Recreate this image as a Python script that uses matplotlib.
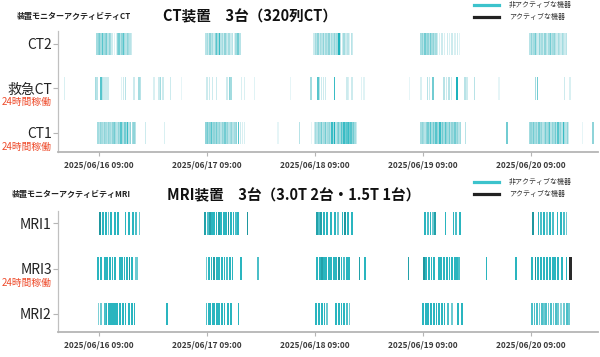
import numpy as np
import pandas as pd
import matplotlib
matplotlib.use('Agg')
import matplotlib.pyplot as plt
import matplotlib.dates as mdates
from matplotlib.colors import LinearSegmentedColormap
from matplotlib.lines import Line2D

plt.rcParams['font.family'] = ['Noto Sans CJK JP', 'DejaVu Sans']

START = pd.Timestamp('2025-06-16 00:00')
DAYS = 5

# (hours after 06/16 00:00, shade 0=light .. 1=dark)
ct2 = [(8.7, .5), (9.0, .6), (9.3, .7), (9.6, .5), (9.9, .8), (10.2, .5), (10.5, .6), (10.8, .7),
       (11.1, .4), (11.4, .6), (11.7, .5), (12.0, .3), (12.5, .15), (13.0, .2), (13.3, .6), (13.6, .7),
       (13.9, .4), (14.2, .6), (14.5, .8), (14.8, .5), (15.1, .4), (15.4, .6), (15.7, .5), (16.0, .4),
       (16.3, .3),
       (32.9, .4), (33.2, .5), (33.5, .3), (33.8, .6), (34.1, .4), (34.4, .5), (34.7, .3), (35.0, .6),
       (35.3, .8), (35.6, .5), (35.9, .9), (36.2, .4), (36.5, .5), (36.8, .3), (37.1, .6), (37.4, .4),
       (37.7, .3), (38.0, .5), (38.4, .3), (38.8, .4), (39.2, .2), (39.6, .5), (40.0, .7), (40.4, .4),
       (56.9, .3), (57.2, .5), (57.5, .4), (57.8, .6), (58.1, .3), (58.4, .5), (58.7, .4), (59.0, .6),
       (59.3, .3), (59.6, .5), (59.9, .4), (60.2, .6), (60.5, .3), (60.8, .5), (61.1, .4), (61.4, .6),
       (61.7, .4), (62.0, .5), (62.4, 1.0), (62.8, .4), (63.2, .3), (63.6, .5), (64.0, .3), (64.4, .4),
       (64.8, .2), (65.2, .4), (65.5, .3),
       (80.7, .5), (81.0, .6), (81.3, .4), (81.6, .7), (81.9, .5), (82.2, .6), (82.5, .4), (82.8, .7),
       (83.1, .5), (83.4, .6), (83.7, .4), (84.0, .5), (84.3, .3), (84.8, .2), (85.3, .3), (85.9, .2),
       (86.5, .3), (87.0, .2), (87.6, .3), (88.2, .2), (88.8, .3), (89.2, .15),
       (104.9, .4), (105.2, .6), (105.5, .4), (105.8, .5), (106.1, .7), (106.4, .4), (106.7, .3),
       (107.0, .6), (107.3, .4), (107.6, .5), (107.9, .3), (108.2, .6), (108.5, .4), (108.8, .3),
       (109.1, .5), (109.4, .7), (109.7, .4), (110.0, .5), (110.3, .6), (110.6, .4), (110.9, .3),
       (111.2, .5), (111.5, .4), (111.8, .3), (112.1, .5), (112.4, .4), (112.7, .3), (113.0, .4)]

er_ct = [(1.5, .2), (8.4, .5), (8.7, .4), (9.6, .8), (9.9, .4), (10.2, .3), (10.5, .3), (10.8, .3),
         (11.1, .3), (14.1, .15), (14.6, .3), (15.0, .4), (16.9, .3), (18.0, .5), (18.3, .4),
         (21.3, .2), (22.4, .3), (22.8, .5), (23.3, .3), (25.0, .3), (27.4, .1), (33.1, .3),
         (33.7, .3), (34.3, .3), (35.2, .3), (37.6, .3), (38.1, .6), (38.4, .5), (40.8, .2),
         (41.4, .2), (43.7, .15), (51.7, .1), (56.2, .5), (57.8, .8), (58.1, .4), (58.6, .3),
         (59.0, .3), (59.5, .3), (61.5, .9), (64.2, .3), (64.6, .2), (65.3, .3), (67.4, .15),
         (68.0, .15), (78.1, .1), (80.7, .2), (82.1, .4), (82.5, .3), (83.3, .7), (85.8, .4),
         (86.3, .3), (86.9, .4), (87.4, .3), (88.7, 1.0), (90.4, .4), (90.9, .3), (92.6, .4),
         (98.0, .1), (106.1, .5), (106.5, .7), (112.6, .3), (113.8, .2)]

ct1 = [(8.9, .5), (9.2, .4), (9.5, .6), (9.8, .5), (10.1, .4), (10.4, .6), (10.7, .5), (11.0, .4),
       (11.3, .6), (11.6, .5), (11.9, .4), (12.2, .6), (12.5, .7), (12.8, .5), (13.1, .4), (13.4, .6),
       (13.7, .5), (14.0, .8), (14.3, .5), (14.6, .4), (14.9, .7), (15.2, .5), (15.5, .9), (15.8, .4),
       (16.1, .6), (16.5, .5), (16.9, .6), (17.2, .4), (19.5, .3), (23.7, .2),
       (32.9, .6), (33.2, .7), (33.5, .5), (33.8, .6), (34.1, .8), (34.4, .5), (34.7, .6), (35.0, .5),
       (35.3, .7), (35.6, .5), (35.9, .6), (36.2, .4), (36.5, .6), (36.8, .5), (37.1, .7), (37.4, .5),
       (37.7, .6), (38.0, .4), (38.3, .5), (38.6, .6), (38.9, .4), (39.3, .5), (39.7, .6), (40.1, .8),
       (40.5, .3), (41.0, .2), (41.5, .2), (48.9, .1), (53.7, .4), (56.3, .1),
       (57.0, .3), (57.3, .5), (57.6, .4), (57.9, .6), (58.2, .5), (58.5, .7), (58.8, .4), (59.1, .5),
       (59.4, .7), (59.7, .4), (60.0, .5), (60.3, .6), (60.6, .4), (60.9, .9), (61.2, .5), (61.5, 1.0),
       (61.8, .4), (62.1, .6), (62.4, .7), (62.7, .5), (63.0, .8), (63.3, .6), (63.6, .9), (63.9, .7),
       (64.2, .8), (64.5, .9), (64.8, .7), (65.1, .8), (65.4, .6), (65.7, .7), (66.0, .5), (66.3, .3),
       (80.7, .5), (81.0, .6), (81.3, .5), (81.6, .4), (81.9, .6), (82.2, .7), (82.5, .5), (82.8, .8),
       (83.1, .5), (83.4, .7), (83.7, .5), (84.0, .8), (84.3, .6), (84.6, .5), (84.9, .9), (85.2, .5),
       (85.5, .7), (85.8, .5), (86.1, .8), (86.4, .6), (86.7, .5), (87.0, .7), (87.3, .4), (87.6, .6),
       (87.9, .5), (88.2, .7), (88.5, .5), (88.8, .6), (89.1, .4), (89.4, .5), (90.5, .4), (99.8, .7),
       (104.8, .5), (105.1, .6), (105.4, .5), (105.7, .7), (106.0, .5), (106.3, .6), (106.6, .4),
       (106.9, .7), (107.2, .5), (107.5, .6), (107.8, .4), (108.1, .5), (108.4, .7), (108.7, .5),
       (109.0, .6), (109.3, .8), (109.6, .4), (109.9, .6), (110.2, .5), (110.5, .7), (110.8, .4),
       (111.1, .8), (111.4, .5), (111.7, .6), (112.0, .4), (112.3, .9), (112.6, .5), (112.9, .4),
       (113.2, .6), (113.5, .3), (116.5, .1), (118.9, .6)]

mri1 = [(9.4, .95), (10.0, .8), (10.6, .8), (11.2, .6), (11.8, .8), (12.6, .8), (13.4, .8), (15.0, .8),
        (15.8, .8), (16.7, .8), (17.3, .7), (18.1, .6),
        (32.7, .9), (33.3, .7), (33.8, .9), (34.2, .8), (34.7, .8), (35.2, .8), (35.7, .9), (36.3, .8),
        (36.8, .8), (37.4, .8), (37.9, .95), (38.5, .8), (39.0, .8), (39.6, .7), (40.0, .8), (42.1, .95),
        (57.6, .9), (58.0, .7), (58.5, .9), (59.1, .8), (59.7, .8), (60.7, .8), (61.5, .8), (62.2, .6),
        (63.2, .8), (63.8, .95), (64.4, .8), (65.3, .8),
        (81.6, .8), (82.2, .7), (82.8, .8), (83.3, .6), (83.8, .9), (86.1, .8), (87.9, .8), (88.5, .7),
        (89.3, .8),
        (105.6, .95), (106.8, .8), (107.4, .7), (108.0, .8), (108.6, .6), (109.3, .8), (110.0, .7),
        (111.0, .8), (111.7, .8), (112.4, .7), (113.0, .6)]

mri3 = [(8.9, .8), (9.5, .8), (10.4, .8), (10.9, .8), (11.5, .8), (12.1, .8), (12.6, .8), (13.7, .8),
        (14.2, .8), (14.8, .8), (15.3, .8), (15.9, .95), (16.5, .8), (17.2, .6), (17.6, .6),
        (33.0, .6), (33.5, .8), (34.1, .8), (34.7, .9), (35.3, .8), (35.8, .8), (36.4, .8), (37.0, .8),
        (37.6, .7), (38.2, .8), (38.8, .8), (40.6, .8), (44.4, .7),
        (57.6, .8), (58.2, .8), (58.7, .9), (59.1, .8), (59.6, .8), (60.2, .8), (60.7, .8), (61.3, .8),
        (61.8, .8), (62.4, .95), (63.0, .8), (63.6, .7), (64.2, .8), (64.7, .8), (67.0, .9), (68.3, .8),
        (77.9, .9),
        (81.3, .95), (81.8, .8), (82.4, .8), (83.0, .8), (83.6, .8), (84.6, .8), (85.2, .8), (85.8, .8),
        (86.4, .8), (87.0, .8), (87.6, .8), (88.2, .8), (88.7, .8), (89.1, .7), (95.2, .8), (101.8, .8),
        (105.4, .8), (106.1, .95), (106.7, .8), (107.4, .8), (108.0, .8), (108.7, .8), (109.3, .8),
        (110.0, .8), (110.5, .8), (111.1, .8), (112.0, .8), (113.0, .8)]
mri3_active = [113.8, 114.1]

mri2 = [(9.0, .55), (9.5, .6), (10.4, .7), (10.8, .8), (11.3, .8), (11.7, .8), (12.2, .8), (12.6, .8),
        (13.2, .8), (13.8, .8), (14.4, .8), (15.0, .8), (15.7, .8), (16.4, .8), (17.0, .8), (24.3, .8),
        (33.0, .7), (33.5, .8), (33.9, .8), (34.4, .8), (34.8, .8), (35.3, .8), (35.8, .8), (36.4, .8),
        (37.0, .8), (37.8, .8), (38.5, .8), (40.1, .8),
        (57.4, .8), (58.0, .8), (58.6, .8), (59.2, .8), (59.8, .6),
        (61.8, .8), (62.4, .8), (63.0, .8), (63.6, .8), (64.2, .7), (64.8, .6),
        (81.1, .8), (81.7, .8), (82.3, .8), (82.9, .8), (83.5, .8), (84.1, .8), (84.7, .8), (85.3, .8),
        (85.9, .8), (86.7, .7), (87.6, .6), (88.9, .8), (89.8, .8),
        (105.4, .7), (105.9, .7), (106.4, .7), (107.0, .6), (107.5, .7), (108.0, .6), (108.5, .7),
        (109.0, .6), (109.6, .7), (110.1, .6), (110.6, .7), (111.1, .6), (111.7, .5), (112.4, .6),
        (113.1, .7), (113.6, .6)]

ct_rows = [('CT1', ct1), ('救急CT', er_ct), ('CT2', ct2)]
mri_rows = [('MRI2', mri2, []), ('MRI3', mri3, mri3_active), ('MRI1', mri1, [])]
ct_24h = ['CT1', '救急CT']
mri_24h = ['MRI3']

ct_cmap = LinearSegmentedColormap.from_list(
    'ct', [(0, '#f2fafb'), (0.3, '#cdebee'), (0.6, '#8fd4d9'), (0.85, '#48c1c9'), (1.0, '#1db3bd')])
mri_cmap = LinearSegmentedColormap.from_list(
    'mri', [(0, '#e6f6f7'), (0.5, '#8fd5da'), (0.8, '#2ab5bf'), (1.0, '#1b8e94')])
RED = '#ee4b2b'
GRID = '#b5b5b5'


def to_num(hours):
    return mdates.date2num(START + pd.to_timedelta(np.asarray(hours, float), unit='h'))


def draw_panel(ax, rows, width_h, ylim, labels24, cmap):
    for i, row in enumerate(rows):
        name, events = row[0], row[1]
        hrs = [e[0] for e in events]
        shade = [e[1] for e in events]
        ax.bar(to_num(hrs), 0.5, width=width_h / 24, bottom=i - 0.25,
               color=cmap(np.array(shade)), linewidth=0, align='center')
        if len(row) > 2 and row[2]:
            ax.bar(to_num(row[2]), 0.5, width=width_h / 24, bottom=i - 0.25,
                   color='#2a2a2a', linewidth=0, align='center')
        if name in labels24:
            ax.annotate('24時間稼働', xy=(0, i), xycoords=('axes fraction', 'data'),
                        xytext=(-4.5, -10), textcoords='offset points',
                        ha='right', va='center', fontsize=7, color=RED)
    ax.set_xlim(to_num([0])[0], to_num([24 * DAYS])[0])
    ax.set_ylim(*ylim)
    ax.set_yticks(range(len(rows)))
    ax.set_yticklabels([r[0] for r in rows], fontsize=10, color='#222222')
    ax.xaxis.set_major_locator(mdates.HourLocator(byhour=[9]))
    ax.xaxis.set_major_formatter(mdates.DateFormatter('%Y/%m/%d %H:%M'))
    for lab in ax.get_xticklabels():
        lab.set_fontsize(6.0)
        lab.set_fontweight('bold')
        lab.set_color('#3a3a3a')
    ax.tick_params(axis='y', length=3.5, pad=1, color=GRID)
    ax.tick_params(axis='x', length=3, pad=3, color=GRID)
    for s in ['top', 'right']:
        ax.spines[s].set_visible(False)
    ax.spines['left'].set_color('#c0c0c0')
    ax.spines['left'].set_linewidth(0.9)
    ax.spines['bottom'].set_color(GRID)
    ax.spines['bottom'].set_linewidth(1.3)


W, H = 600, 357
fig = plt.figure(figsize=(6, 3.57), dpi=100)

ax_ct = fig.add_axes([58 / W, 1 - 152 / H, 540 / W, 121 / H])
draw_panel(ax_ct, ct_rows, 0.32, (-0.43, 2.29), ct_24h, ct_cmap)

ax_mri = fig.add_axes([58 / W, 1 - 332 / H, 540 / W, 121 / H])
draw_panel(ax_mri, mri_rows, 0.4, (-0.40, 2.27), mri_24h, mri_cmap)

# titles
fig.text(17 / W, 1 - 16 / H, '装置モニターアクティビティCT', fontsize=5.8,
         fontweight='bold', va='center', color='#222222')
fig.text(163 / W, 1 - 16 / H, 'CT装置　3台（320列CT）', fontsize=10.5,
         fontweight='bold', va='center', color='#111111')
fig.text(12 / W, 1 - 195 / H, '装置モニターアクティビティMRI', fontsize=5.8,
         fontweight='bold', va='center', color='#222222')
fig.text(167 / W, 1 - 195 / H, 'MRI装置　3台（3.0T 2台・1.5T 1台）', fontsize=10.5,
         fontweight='bold', va='center', color='#111111')

# legends
handles = [Line2D([], [], color='#3cc3cc', lw=2.3), Line2D([], [], color='#222222', lw=2.3)]
names = ['非アクティブな機器', 'アクティブな機器']
for top in [1, 178]:
    fig.legend(handles, names, loc='upper left', bbox_to_anchor=(474 / W, 1 - top / H),
               frameon=False, fontsize=5, handlelength=3.6, handletextpad=1.4,
               borderpad=0, borderaxespad=0, labelspacing=0.6, labelcolor='#333333')

fig.savefig('out.png', dpi=100)
